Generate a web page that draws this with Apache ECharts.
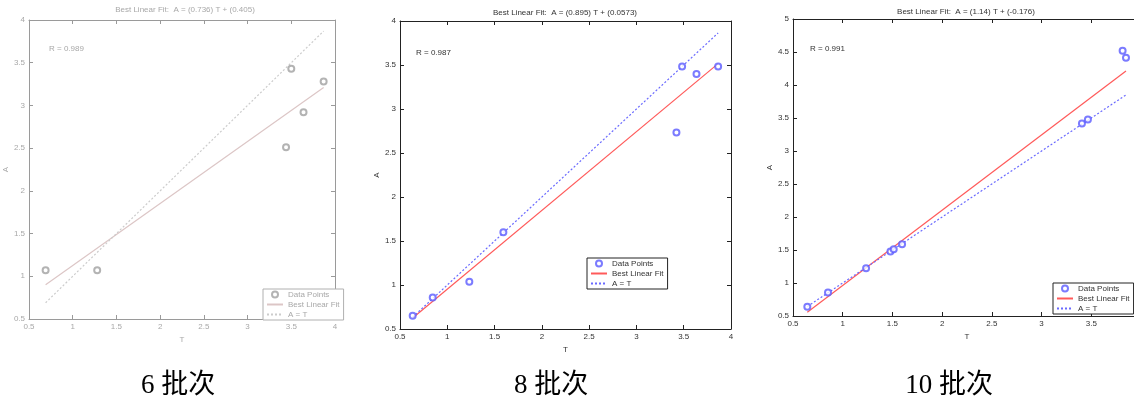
<!DOCTYPE html>
<html><head><meta charset="utf-8">
<script src="https://cdn.jsdelivr.net/npm/echarts@6/dist/echarts.min.js"></script>
<style>html,body{margin:0;padding:0;background:#fff}#c{width:1134px;height:403px}</style>
</head><body><div id="c"></div>
<script>
// ---- data ----
const captions = ['6 批次', '8 批次', '10 批次'];
const titles = ['Best Linear Fit:  A = (0.736) T + (0.405)', 'Best Linear Fit:  A = (0.895) T + (0.0573)', 'Best Linear Fit:  A = (1.14) T + (-0.176)'];
const rTexts = ['R = 0.989', 'R = 0.987', 'R = 0.991'];
const T6 = [0.69, 1.28, 3.44, 3.50, 3.64, 3.87];
const A6 = [1.07, 1.07, 2.51, 3.43, 2.92, 3.28];
const T8 = [0.634, 0.846, 1.233, 1.593, 3.423, 3.483, 3.635, 3.864];
const A8 = [0.651, 0.859, 1.037, 1.600, 2.733, 3.482, 3.399, 3.482];
const T10 = [0.644, 0.852, 1.235, 1.480, 1.513, 1.597, 3.406, 3.466, 3.815, 3.849];
const A10 = [0.641, 0.857, 1.225, 1.477, 1.513, 1.589, 3.415, 3.477, 4.518, 4.414];
const fit6 = [[0.69, 0.90], [3.87, 3.21]];
const fit8 = [[0.634, 0.625], [3.864, 3.516]];
const fit10 = [[0.644, 0.558], [3.849, 4.212]];
const id6 = [[0.69, 0.69], [3.87, 3.87]];
const id8 = [[0.634, 0.634], [3.864, 3.864]];
const id10 = [[0.644, 0.644], [3.849, 3.849]];
const xRange = [0.5, 4];
const yRanges = [[0.5, 4], [0.5, 4], [0.5, 5]];
const legendNames = ['Data Points', 'Best Linear Fit', 'A = T'];

// ---- layout / style ----
const grids = [
  {left: 29, top: 20, width: 306, height: 299},
  {left: 400, top: 21, width: 331, height: 308},
  {left: 793, top: 19, width: 348, height: 297}
];
const styles = [
  {axis: '#9a9a9a', text: '#a8a8a8', pt: '#a0a0a0', fit: '#dcc6c6', id: '#cccccc', box: '#b0b0b0'},
  {axis: '#222', text: '#333', pt: '#5a5aff', fit: '#ff5a5a', id: '#6a6aff', box: '#222'},
  {axis: '#222', text: '#333', pt: '#5a5aff', fit: '#ff5a5a', id: '#6a6aff', box: '#222'}
];
const FONT = 'Liberation Sans';
const legendPos = [{left: 263, top: 289}, {left: 587, top: 258}, {left: 1053, top: 283}];
const titleX = [185, 565, 966], titleY = [6, 9, 8];
const rPos = [[49, 45], [416, 49], [810, 45]];
const capX = [178, 551, 949];
const xNameGap = [9, 10, 10];

const datasets = [[T6, A6, fit6, id6], [T8, A8, fit8, id8], [T10, A10, fit10, id10]];
const xAxis = [], yAxis = [], series = [], legend = [], graphic = [];

grids.forEach((g, i) => {
  const s = styles[i];
  const common = (pos, min, max, show) => ({
    type: 'value', gridIndex: i, position: pos, min, max, interval: 0.5,
    axisLine: {show: true, onZero: false, lineStyle: {color: s.axis, width: 1}},
    axisTick: {show: true, inside: true, length: 4, lineStyle: {color: s.axis}},
    axisLabel: {show, fontSize: 8, color: s.text, fontFamily: FONT, margin: 4},
    splitLine: {show: false}
  });
  const xb = common('bottom', xRange[0], xRange[1], true);
  Object.assign(xb, {name: 'T', nameLocation: 'middle', nameGap: xNameGap[i], nameTextStyle: {fontSize: 8, color: s.text, fontFamily: FONT}});
  xAxis.push(xb, common('top', xRange[0], xRange[1], false));
  const yl = common('left', yRanges[i][0], yRanges[i][1], true);
  Object.assign(yl, {name: 'A', nameLocation: 'middle', nameGap: 19, nameTextStyle: {fontSize: 8, color: s.text, fontFamily: FONT}});
  yAxis.push(yl, common('right', yRanges[i][0], yRanges[i][1], false));

  const [T, A, fit, id] = datasets[i];
  const xi = i * 2, yi = i * 2;
  series.push({
    name: legendNames[0] + '#' + i, type: 'scatter', xAxisIndex: xi, yAxisIndex: yi,
    symbol: 'emptyCircle', symbolSize: 6,
    itemStyle: {color: s.pt, borderColor: s.pt, borderWidth: 1},
    data: T.map((t, k) => [t, A[k]]), z: 5
  });
  series.push({
    name: legendNames[1] + '#' + i, type: 'line', xAxisIndex: xi, yAxisIndex: yi,
    symbol: 'none', lineStyle: {color: s.fit, width: 1.2}, itemStyle: {color: s.fit},
    data: fit, z: 3
  });
  series.push({
    name: legendNames[2] + '#' + i, type: 'line', xAxisIndex: xi, yAxisIndex: yi,
    symbol: 'none', lineStyle: {color: s.id, width: 1.2, type: [2, 2]}, itemStyle: {color: s.id},
    data: id, z: 3
  });
  legend.push({
    orient: 'vertical', left: legendPos[i].left, top: legendPos[i].top,
    data: [
      {name: legendNames[0] + '#' + i},
      {name: legendNames[1] + '#' + i, itemStyle: {opacity: 0}},
      {name: legendNames[2] + '#' + i, itemStyle: {opacity: 0}}
    ],
    formatter: n => n.split('#')[0],
    itemWidth: 16, itemHeight: 6, itemGap: 1, padding: [1, 4, 1, 3],
    borderColor: s.box, borderWidth: 1, backgroundColor: '#fff',
    textStyle: {fontSize: 8, color: s.text, fontFamily: FONT, lineHeight: 9}, selectedMode: false
  });
  graphic.push({type: 'text', x: titleX[i], y: titleY[i], style: {text: titles[i], fontSize: 8, fill: s.text, fontFamily: FONT, textAlign: 'center'}});
  graphic.push({type: 'text', x: rPos[i][0], y: rPos[i][1], style: {text: rTexts[i], fontSize: 8, fill: s.text, fontFamily: FONT}});
  graphic.push({type: 'text', x: capX[i], y: 372, style: {text: captions[i], fontSize: 27, fill: '#000', fontFamily: '"Liberation Serif","Noto Sans CJK SC"', textAlign: 'center'}});
});

const chart = echarts.init(document.getElementById('c'), null, {renderer: 'canvas'});
chart.setOption({
  backgroundColor: '#fff', animation: false,
  grid: grids.map(g => Object.assign({show: true, borderColor: 'transparent', backgroundColor: '#fff', containLabel: false, outerBoundsMode: 'none'}, g)),
  xAxis, yAxis, series, legend, graphic
});
</script></body></html>
